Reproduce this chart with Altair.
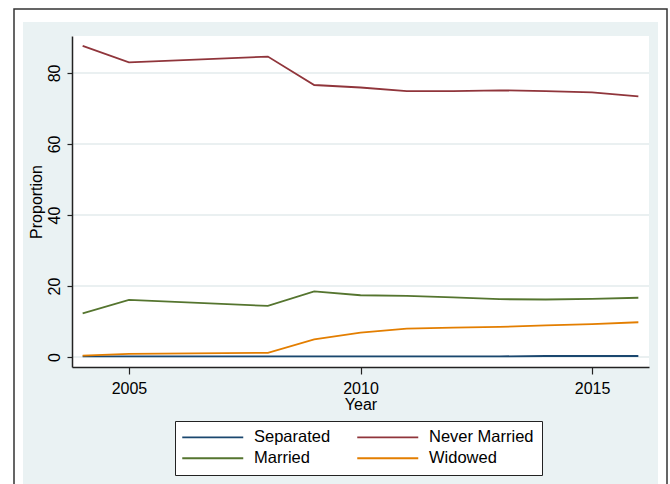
import altair as alt
import pandas as pd

# Survey years and share (%) of respondents in each marital status
years = [2004, 2005, 2008, 2009, 2010, 2011, 2012, 2013, 2014, 2015, 2016]
separated = [0.2, 0.2, 0.2, 0.2, 0.2, 0.2, 0.2, 0.2, 0.3, 0.3, 0.3]
never_married = [87.6, 83.0, 84.6, 76.6, 75.9, 74.9, 74.9, 75.1, 74.9, 74.5, 73.4]
married = [12.3, 16.1, 14.4, 18.5, 17.4, 17.2, 16.8, 16.3, 16.2, 16.4, 16.7]
widowed = [0.4, 0.9, 1.2, 5.0, 6.9, 8.0, 8.3, 8.5, 8.9, 9.3, 9.8]

categories = ["Separated", "Never Married", "Married", "Widowed"]
colors = ["#1a476f", "#90353b", "#55752f", "#e37e00"]
# legend columns fill top-to-bottom: Separated/Married, then Never Married/Widowed
legend_order = ["Separated", "Married", "Never Married", "Widowed"]
x_ticks = [2005, 2010, 2015]
y_ticks = [0, 20, 40, 60, 80]

series = dict(zip(categories, [separated, never_married, married, widowed]))
df = pd.DataFrame(
    [{"Year": yr, "Status": name, "Proportion": val}
     for name, vals in series.items() for yr, val in zip(years, vals)]
)
color_range = [colors[categories.index(c)] for c in legend_order]

W, H = 577, 331
FONT = "Liberation Sans"
INK = "#222222"

x_scale = alt.Scale(domain=[2003.77, 2016.23], nice=False, zero=False)
y_scale = alt.Scale(domain=[-2.8, 90.4], nice=False, zero=False)

y_axis = alt.Axis(
    values=y_ticks, grid=False,
    tickSize=5, tickColor=INK, tickWidth=1.2,
    domainColor=INK, domainWidth=1.5,
    labelFont=FONT, labelFontSize=16, labelColor="black",
    labelAngle=270, labelAlign="center", labelBaseline="alphabetic",
    labelPadding=8, labelFlush=False,
    title="Proportion", titleFont=FONT, titleFontSize=16,
    titleFontWeight="normal", titleColor="black",
    titleAngle=270, titleX=-31, titleY=165.5,
    titleAlign="center", titleBaseline="alphabetic", zindex=1,
)

x_axis = alt.Axis(
    values=x_ticks, format="d", grid=False,
    tickSize=7, tickColor=INK, tickWidth=1.2,
    domainColor=INK, domainWidth=1.5,
    labelFont=FONT, labelFontSize=16, labelColor="black",
    labelPadding=6, labelFlush=False,
    title="Year", titleFont=FONT, titleFontSize=16,
    titleFontWeight="normal", titleColor="black",
    titleX=288.5, titleY=42, titleAlign="center",
    titleBaseline="alphabetic", zindex=1,
)

one = alt.Data(values=[{}])

# Outer frame, graph region and white plot region
frame = alt.Chart(one).mark_rect(fill="white", stroke="#333333", strokeWidth=1.5).encode(
    x=alt.value(-58), x2=alt.value(595), y=alt.value(-27), y2=alt.value(470)
)
region = alt.Chart(one).mark_rect(fill="#eaf2f3").encode(
    x=alt.value(-49), x2=alt.value(586), y=alt.value(-14), y2=alt.value(470)
)
plot_bg = alt.Chart(one).mark_rect(fill="white").encode(
    x=alt.value(0), x2=alt.value(W), y=alt.value(0), y2=alt.value(H)
)

# Horizontal gridlines at the labelled ticks
grid = alt.Chart(pd.DataFrame({"v": y_ticks})).mark_rule(
    color="#e3ebec", strokeWidth=1.5
).encode(y=alt.Y("v:Q", scale=y_scale, axis=y_axis))

lines = alt.Chart(df).mark_line(strokeWidth=1.8).encode(
    x=alt.X("Year:Q", scale=x_scale, axis=x_axis),
    y=alt.Y("Proportion:Q", scale=y_scale, axis=y_axis),
    color=alt.Color(
        "Status:N",
        scale=alt.Scale(domain=legend_order, range=color_range),
        legend=alt.Legend(
            title=None, orient="none", legendX=103, legendY=385,
            columns=2, columnPadding=22, rowPadding=4, padding=8,
            fillColor="white", strokeColor=INK,
            symbolType="M-6.1,0L6.1,0", symbolSize=100,
            symbolStrokeWidth=1.8, symbolOffset=21.5, labelOffset=33,
            labelFont=FONT, labelFontSize=16.5, labelColor="black",
        ),
    ),
)

chart = (
    alt.layer(frame, region, plot_bg, grid, lines)
    .properties(
        width=W, height=H,
        padding={"left": 72, "top": 36, "right": 21, "bottom": 117},
        autosize="none", background="white",
    )
    .configure_view(strokeWidth=0)
)

chart.save("out.html", embed_options={"renderer": "svg", "actions": False})
